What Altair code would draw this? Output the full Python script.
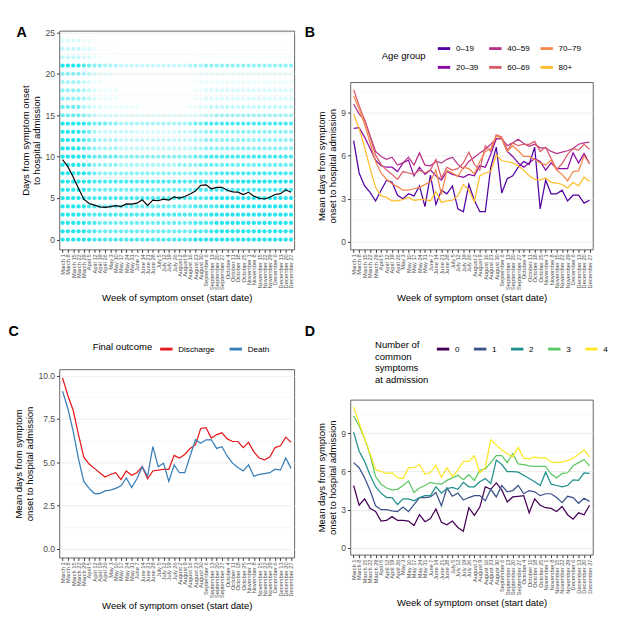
import altair as alt
import pandas as pd

FONT = "Liberation Sans"

WEEKS = ["March 1", "March 8", "March 15", "March 22", "March 29",
         "April 5", "April 12", "April 19", "April 26",
         "May 3", "May 10", "May 17", "May 24", "May 31",
         "June 7", "June 14", "June 21", "June 28",
         "July 5", "July 12", "July 19", "July 26",
         "August 2", "August 9", "August 16", "August 23", "August 30",
         "September 6", "September 13", "September 20", "September 27",
         "October 4", "October 11", "October 18", "October 25",
         "November 1", "November 8", "November 15", "November 22", "November 29",
         "December 6", "December 13", "December 20", "December 27"]

# Panel A: density of patients per (week, day) cell, one digit per week (0 = none, 9 = densest)
A_DENSITY = [
    "99999988888" "88888888888" "88899999999" "99999999999",  # day 0
    "99999887777" "77777777777" "77788889999" "99999999999",  # 1
    "99999887777" "77777777777" "77788889999" "99999999999",  # 2
    "99999888888" "88888888888" "88888899999" "99999999999",  # 3
    "99999887777" "77777777777" "77788888999" "99999999999",  # 4
    "99999888888" "88888888888" "88888899999" "99999999999",  # 5
    "99999877777" "77777777777" "77778888888" "88888888888",  # 6
    "99999988888" "88888888888" "88889999999" "99999999999",  # 7
    "99999876666" "66666666666" "66677778888" "88888888888",  # 8
    "99999866666" "55555555555" "66667777777" "77777777777",  # 9
    "99999877777" "66666666666" "66677888888" "88888888888",  # 10
    "99998765555" "44444444444" "44455666666" "66666666666",  # 11
    "99998765555" "44444444444" "44455666666" "66666666666",  # 12
    "99998754444" "44433333333" "44455666666" "66666666666",  # 13
    "99999877766" "55555555555" "55677888888" "88888888888",  # 14
    "77776543333" "22222222222" "22233445555" "55555555555",  # 15
    "77775433222" "22221111111" "11223344444" "44444444444",  # 16
    "66665432222" "11111111111" "11122333333" "33333333333",  # 17
    "66665432222" "11111111111" "11122333333" "33333333333",  # 18
    "55554322111" "11111111111" "11112222222" "22222222222",  # 19
    "66665432221" "11111111111" "11112222222" "22222222222",  # 20
    "99998766555" "44444444444" "44555666666" "66666666666",  # 21
    "44443321100" "00000000000" "00001111111" "11111111111",  # 22
    "44443321110" "00000000000" "00000111111" "11111111111",  # 23
    "33332211110" "00000000000" "00000010101" "01001010010",  # 24
]
A_MEAN = [9.65, 8.8, 7.55, 6.2, 4.87, 4.35, 4.15, 3.95, 3.88, 3.98, 4.1,
          3.98, 4.3, 4.27, 4.39, 4.8, 4.13, 4.76, 4.68, 4.87, 4.76, 5.15,
          5.0, 5.2, 5.5, 5.85, 6.55, 6.6, 6.13, 6.3, 6.3, 5.95, 5.76,
          5.72, 5.43, 5.7, 5.24, 4.98, 4.9, 5.1, 5.43, 5.54, 6.0, 5.7]

# Panel B: mean delay by age group
AGE_GROUPS = ["0–19", "20–39", "40–59", "60–69", "70–79", "80+"]
AGE_COLORS = ["#5302A3", "#8B0AA5", "#B83289", "#DB5C68", "#F48849", "#FEBC2A"]
B_0_19 = [7.05, 4.8, 3.9, 3.45, 2.85, 3.6, 4.3, 4.15, 3.25, 3.0, 3.35,
          3.2, 3.9, 2.45, 4.65, 2.6, 3.6, 3.35, 3.9, 2.3, 2.1, 4.0,
          2.9, 2.1, 2.1, 5.2, 6.6, 3.4, 4.4, 4.6, 5.2, 5.6, 5.4,
          6.6, 2.3, 4.3, 3.35, 3.35, 3.6, 2.85, 3.25, 3.25, 2.7, 2.9]
B_20_39 = [7.9, 7.95, 7.3, 6.5, 5.7, 5.3, 5.2, 5.2, 4.9, 5.5, 5.7,
           4.6, 5.2, 4.7, 5.0, 4.6, 4.3, 4.9, 4.7, 4.6, 4.5, 4.7,
           4.6, 5.3, 5.2, 6.1, 7.2, 7.2, 6.3, 5.95, 5.5, 5.2, 5.5,
           5.8, 5.6, 5.0, 5.5, 5.1, 5.1, 5.1, 6.2, 5.5, 6.15, 5.45]
B_40_59 = [9.6, 8.9, 8.5, 7.4, 6.3, 5.95, 5.75, 5.9, 5.35, 5.5, 5.9,
           5.35, 6.2, 5.35, 5.3, 5.6, 5.5, 5.75, 5.9, 5.4, 5.1, 5.6,
           5.9, 6.2, 6.45, 6.8, 7.2, 7.2, 6.7, 6.9, 7.15, 6.85, 6.65,
           6.8, 6.55, 6.55, 6.3, 6.15, 6.25, 6.35, 6.5, 6.8, 6.9, 6.95]
B_60_69 = [10.6, 9.5, 8.5, 7.3, 6.05, 5.4, 5.0, 4.7, 4.35, 4.9, 4.8,
           4.7, 5.0, 4.8, 5.0, 5.75, 4.45, 5.2, 5.0, 5.1, 5.5, 6.25,
           5.4, 5.0, 6.7, 6.3, 7.45, 7.3, 6.4, 6.9, 6.7, 6.8, 6.8,
           7.0, 6.3, 6.6, 5.8, 5.05, 5.45, 6.1, 6.5, 6.4, 6.8, 6.45]
B_70_79 = [10.15, 9.25, 8.2, 6.9, 5.6, 4.8, 4.35, 4.05, 3.85, 3.6, 3.6,
           3.7, 3.8, 4.0, 4.2, 5.0, 3.3, 5.0, 4.8, 4.55, 5.2, 5.1,
           4.75, 5.6, 6.3, 6.5, 7.4, 7.2, 6.3, 6.7, 6.35, 5.95, 5.95,
           5.75, 5.5, 5.35, 5.7, 5.0, 4.7, 4.25, 4.9, 4.95, 6.0, 5.45]
B_80P = [8.9, 7.9, 6.6, 5.1, 3.8, 3.2, 3.1, 2.85, 2.85, 2.95, 3.1,
         2.9, 2.95, 2.95, 2.85, 3.5, 2.75, 2.85, 2.9, 3.2, 4.0, 3.6,
         2.8, 4.6, 4.8, 4.9, 6.05, 5.65, 5.6, 5.5, 5.3, 5.0, 4.6,
         4.35, 4.3, 4.45, 4.15, 4.1, 4.0, 3.75, 4.15, 3.9, 4.5, 4.2]

# Panel C: mean delay by final outcome
OUTCOMES = ["Discharge", "Death"]
OUTCOME_COLORS = ["#E41A1C", "#377EB8"]
C_DISCHARGE = [9.87, 8.85, 8.0, 6.6, 5.3, 4.9, 4.65, 4.4, 4.15, 4.3, 4.4,
               4.0, 4.5, 4.25, 4.4, 4.75, 4.05, 4.5, 4.55, 4.6, 4.6, 5.4,
               5.25, 5.45, 5.8, 6.0, 6.95, 7.0, 6.4, 6.6, 6.7, 6.35, 6.2,
               6.2, 5.85, 6.15, 5.6, 5.25, 5.15, 5.3, 5.85, 5.95, 6.45, 6.15]
C_DEATH = [9.1, 8.1, 6.8, 5.2, 3.9, 3.5, 3.2, 3.2, 3.35, 3.4, 3.5,
           3.65, 4.1, 3.55, 4.05, 4.75, 4.2, 5.9, 4.75, 4.95, 3.9, 4.85,
           4.4, 4.4, 5.35, 6.3, 6.1, 6.3, 6.3, 5.8, 5.9, 5.35, 4.95,
           4.7, 4.5, 4.85, 4.2, 4.3, 4.35, 4.4, 4.6, 4.55, 5.25, 4.65]

# Panel D: mean delay by number of common symptoms at admission
SYMPTOMS = ["0", "1", "2", "3", "4"]
SYMPTOM_COLORS = ["#440154", "#3B528B", "#21908C", "#5DC863", "#FDE725"]
D_0 = [4.9, 3.35, 3.85, 3.1, 2.85, 2.1, 2.15, 2.45, 2.15, 2.15, 2.1,
       1.75, 2.6, 2.05, 2.3, 3.05, 2.0, 1.8, 2.1, 1.6, 1.3, 3.15,
       2.55, 3.2, 4.8, 4.6, 5.1, 4.55, 3.6, 4.0, 4.05, 4.1, 2.75,
       3.85, 3.35, 3.15, 3.1, 2.85, 3.25, 2.6, 2.25, 2.75, 2.6, 3.35]
D_1 = [6.7, 6.3, 5.5, 4.5, 3.3, 3.0, 3.0, 2.9, 2.85, 3.2, 2.85,
       3.4, 3.95, 3.95, 4.0, 4.35, 3.3, 4.7, 4.05, 4.3, 3.75, 3.95,
       4.1, 4.1, 3.7, 4.6, 4.0, 4.9, 4.4, 4.5, 4.9, 4.25, 4.5,
       4.4, 4.1, 4.25, 4.25, 3.95, 3.55, 4.05, 3.95, 3.5, 3.9, 3.65]
D_2 = [9.1, 7.6, 6.8, 5.7, 4.8, 4.3, 3.95, 3.95, 3.4, 3.85, 3.85,
       3.7, 3.95, 4.1, 4.1, 4.8, 4.3, 4.65, 4.75, 4.6, 5.15, 4.8,
       4.8, 5.2, 5.45, 5.05, 6.9, 6.55, 6.0, 6.0, 5.95, 5.7, 5.45,
       5.2, 4.9, 5.95, 5.0, 4.9, 4.8, 4.9, 5.35, 5.3, 5.9, 5.85]
D_3 = [10.35, 9.6, 8.6, 7.3, 5.6, 5.0, 4.7, 4.55, 4.6, 4.9, 5.25,
       4.35, 4.7, 4.9, 5.15, 5.05, 5.0, 5.3, 5.5, 5.7, 5.35, 5.75,
       5.3, 6.1, 6.2, 6.7, 7.25, 7.25, 6.7, 7.4, 6.6, 6.55, 6.45,
       6.4, 6.4, 6.4, 5.8, 5.5, 5.85, 5.9, 6.45, 6.7, 6.95, 6.45]
D_4 = [11.1, 9.8, 8.6, 7.4, 6.15, 6.0, 5.85, 5.9, 5.5, 5.45, 6.3,
       6.3, 6.55, 5.8, 5.9, 6.5, 5.55, 6.3, 5.6, 6.1, 6.8, 6.8,
       7.25, 5.9, 6.3, 8.5, 8.1, 7.7, 7.4, 7.15, 7.9, 7.05, 7.0,
       7.15, 7.05, 7.1, 6.75, 6.7, 6.75, 6.85, 7.05, 7.35, 7.7, 7.15]

# ---------------------------------------------------------------- helpers
X_TITLE = "Week of symptom onset (start date)"
MEAN_TITLE = ["Mean days from symptom", "onset to hospital admission"]


def x_enc():
    return alt.X("week:N", sort=WEEKS,
                 scale=alt.Scale(type="point", padding=0.6),
                 axis=alt.Axis(title=X_TITLE, labelAngle=-90, labelAlign="right",
                               labelBaseline="middle", labelFontSize=6,
                               labelOverlap=False, labelPadding=1.5,
                               titlePadding=3, gridWidth=0.8))


def y_axis(title, values, major, fmt=None):
    lab = "datum.label" if fmt is None else "format(datum.value, '%s')" % fmt
    return alt.Axis(title=title, values=values,
                    labelExpr="abs(datum.value %% %s) < 1e-9 ? %s : ''" % (major, lab),
                    tickOpacity={"condition": {"test": "abs(datum.value %% %s) > 1e-9" % major,
                                               "value": 0}, "value": 1},
                    gridWidth={"condition": {"test": "abs(datum.value %% %s) > 1e-9" % major,
                                             "value": 0.45}, "value": 0.9},
                    titleLineHeight=11, titlePadding=4, labelPadding=2)


def letter(t, dx, offset):
    return alt.TitleParams(t, anchor="start", frame="bounds", fontSize=15,
                           fontWeight="bold", font=FONT, dx=dx, offset=offset,
                           color="black")


def long_df(series, names, key):
    rows = []
    for name, vals in zip(names, series):
        for w, v in zip(WEEKS, vals):
            rows.append({"week": w, key: name, "val": v})
    return pd.DataFrame(rows)


def spacer():
    # invisible 1x1 anchor so that both columns line up by their top edge
    return alt.Chart(pd.DataFrame({"v": [0]})).mark_point(opacity=0, size=1).encode(
        x=alt.X("v:Q", axis=None), y=alt.Y("v:Q", axis=None)
    ).properties(width=1, height=1, view=alt.ViewBackground(stroke=None))


# ---------------------------------------------------------------- panel A
pts = []
for day, row in enumerate(A_DENSITY):
    for w, ch in zip(WEEKS, row):
        d = int(ch)
        if d > 0:
            pts.append({"week": w, "val": day, "op": (d / 9) ** 1.6 * 0.85})
df_a = pd.DataFrame(pts)
df_am = pd.DataFrame({"week": WEEKS, "val": A_MEAN})

a_y = alt.Y("val:Q", scale=alt.Scale(domain=[-1.2, 25.2], nice=False, zero=False),
            axis=y_axis(["Days from symptom onset", "to hospital admission"],
                        [0, 2.5, 5, 7.5, 10, 12.5, 15, 17.5, 20, 22.5, 25], 5))

a_pts = alt.Chart(df_a).mark_circle(color="#00E2EA", size=20).encode(
    x=x_enc(), y=a_y, opacity=alt.Opacity("op:Q", scale=None, legend=None))
a_line = alt.Chart(df_am).mark_line(color="black", strokeWidth=1.2).encode(
    x=x_enc(), y=a_y)
A = alt.layer(a_pts, a_line).properties(width=247, height=230,
                                        title=letter("A", -5, -12))


# ---------------------------------------------------------------- line panels
def line_panel(df, key, order, colors, legend, ydom, yvals, major, fmt, w, h, ttl):
    y = alt.Y("val:Q", scale=alt.Scale(domain=ydom, nice=False, zero=False),
              axis=y_axis(MEAN_TITLE, yvals, major, fmt))
    return alt.Chart(df).mark_line(strokeWidth=1.3).encode(
        x=x_enc(), y=y,
        color=alt.Color(key + ":N", scale=alt.Scale(domain=order, range=colors),
                        sort=order, legend=legend),
        detail=key + ":N",
    ).properties(width=w, height=h, title=ttl)


df_b = long_df([B_0_19, B_20_39, B_40_59, B_60_69, B_70_79, B_80P], AGE_GROUPS, "age")
B = line_panel(df_b, "age", AGE_GROUPS, AGE_COLORS,
               alt.Legend(title="Age group", orient="none", legendX=33, legendY=-44,
                          columns=3, titleOrient="left", titleAnchor="middle",
                          titleBaseline="middle", symbolType="stroke",
                          symbolStrokeWidth=3, symbolSize=170, columnPadding=4,
                          rowPadding=5, titlePadding=10),
               [-0.53, 11.13], [0, 1.5, 3, 4.5, 6, 7.5, 9, 10.5], 3, None,
               255, 176, letter("B", -13, 0))

df_c = long_df([C_DISCHARGE, C_DEATH], OUTCOMES, "outcome")
C = line_panel(df_c, "outcome", OUTCOMES, OUTCOME_COLORS,
               alt.Legend(title="Final outcome", orient="none", legendX=35, legendY=-30,
                          direction="horizontal", titleOrient="left",
                          titleBaseline="middle", titleAnchor="middle",
                          symbolType="stroke", symbolStrokeWidth=3, symbolSize=170,
                          columnPadding=8, titlePadding=6),
               [-0.49, 10.36], [0, 1.25, 2.5, 3.75, 5, 6.25, 7.5, 8.75, 10], 2.5, ".1f",
               247, 198, letter("C", -6, 2))

df_d = long_df([D_0, D_1, D_2, D_3, D_4], SYMPTOMS, "symptoms")
D = line_panel(df_d, "symptoms", SYMPTOMS, SYMPTOM_COLORS,
               alt.Legend(title=["Number of", "common", "symptoms", "at admission"],
                          orient="none", legendX=26, legendY=-62,
                          direction="horizontal", titleOrient="left",
                          titleAnchor="start", titleLineHeight=12,
                          symbolType="stroke", symbolStrokeWidth=3, symbolSize=170,
                          columnPadding=8, titlePadding=6),
               [-0.55, 11.65], [0, 1.5, 3, 4.5, 6, 7.5, 9, 10.5], 3, None,
               255, 163, letter("D", -13, 2))

RES = dict(color="independent", y="independent", x="independent")
left = alt.vconcat(spacer(), alt.vconcat(A, C, spacing=22).resolve_scale(**RES),
                   spacing=1).resolve_scale(**RES)
right = alt.vconcat(spacer(), alt.vconcat(B, D, spacing=22).resolve_scale(**RES),
                    spacing=1).resolve_scale(**RES)
chart = alt.hconcat(left, right, spacing=9).resolve_scale(**RES).properties(padding=0)

chart = chart.configure_view(stroke="#4d4d4d", strokeWidth=0.9).configure_axis(
    domain=False, tickColor="#333333", tickSize=3, labelColor="#4D4D4D",
    labelFont=FONT, labelFontSize=9, titleFont=FONT, titleFontSize=10,
    titleFontWeight="normal", titleColor="black", gridColor="#EBEBEB",
).configure_legend(
    labelFont=FONT, titleFont=FONT, labelFontSize=8.5, titleFontSize=10,
    titleFontWeight="normal", titleColor="black", labelColor="black", padding=0,
).configure_title(font=FONT)

chart.save("out.html", embed_options={"renderer": "svg", "actions": False})
